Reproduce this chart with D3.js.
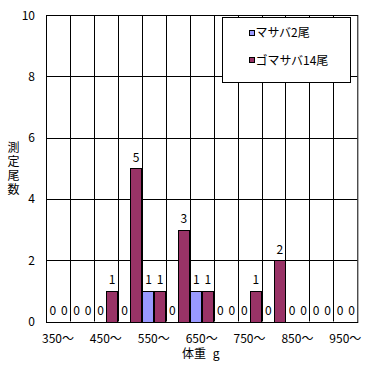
<!DOCTYPE html>
<html><head><meta charset="utf-8">
<script src="https://cdn.jsdelivr.net/npm/d3@7"></script>
<style>body{margin:0;background:#fff}svg{display:block}text{font-family:"Noto Sans CJK JP","DejaVu Sans",sans-serif;font-size:12px;fill:#000}</style>
</head><body><svg id="c" width="375" height="366"></svg>
<script>
const categories = ["350～","400～","450～","500～","550～","600～","650～","700～","750～","800～","850～","900～","950～"];
const masaba = [0,0,0,0,1,0,1,0,0,0,0,0,0];
const gomasaba = [0,0,1,5,1,3,1,0,1,2,0,0,0];
const seriesNames = ["マサバ2尾","ゴマサバ14尾"];
const colors = ["#9999FF","#993366"];
const yTicks = [0,2,4,6,8,10];

const svg = d3.select("#c");
const L = 46, R = 357.3, T = 15, B = 321.5;
const x = d3.scaleBand().domain(categories).range([L, R]).paddingInner(0).paddingOuter(0);
const x1 = d3.scaleBand().domain([0,1]).range([0, x.bandwidth()]).paddingOuter(0.06).paddingInner(0.04);
const y = d3.scaleLinear().domain([0,10]).range([B, T]);

// grid
const g = svg.append("g");
g.selectAll("line.h").data(yTicks).join("line")
  .attr("x1", L).attr("x2", R).attr("y1", d => Math.round(y(d))+0.5).attr("y2", d => Math.round(y(d))+0.5)
  .attr("stroke", "#000");
g.selectAll("line.v").data(categories.slice(1)).join("line")
  .attr("x1", d => Math.round(x(d))+0.5).attr("x2", d => Math.round(x(d))+0.5)
  .attr("y1", T).attr("y2", B).attr("stroke", "#000");
g.append("rect").attr("x", L+0.5).attr("y", Math.round(T)+0.5).attr("width", R-L).attr("height", Math.round(B)-Math.round(T))
  .attr("fill", "none").attr("stroke", "#000");

// y tick labels
svg.selectAll("text.yt").data(yTicks).join("text")
  .attr("x", 35).attr("y", d => y(d)+4.5).attr("text-anchor", "end").text(d => d);

// x tick labels (every other)
svg.selectAll("text.xt").data(categories.filter((c,i) => i % 2 === 0)).join("text")
  .attr("x", d => x(d) + x.bandwidth()/2).attr("y", 343).attr("text-anchor", "middle").text(d => d);

// bars
const series = [masaba, gomasaba];
series.forEach((vals, si) => {
  const grp = svg.append("g");
  grp.selectAll("rect").data(vals.map((v,i)=>({v, c: categories[i]}))).join("rect")
    .filter(d => d.v > 0)
    .attr("x", d => Math.round(x(d.c) + x1(si)) + 0.5)
    .attr("y", d => Math.round(y(d.v)) + 0.5)
    .attr("width", Math.round(x1.bandwidth()))
    .attr("height", d => Math.round(y(0)) - Math.round(y(d.v)))
    .attr("fill", colors[si]).attr("stroke", "#000");
  grp.selectAll("text").data(vals.map((v,i)=>({v, c: categories[i]}))).join("text")
    .attr("x", d => x(d.c) + x1(si) + x1.bandwidth()/2 + 0.5)
    .attr("y", d => y(d.v) - 6.5)
    .attr("text-anchor", "middle").text(d => d.v);
});

// y axis title vertical
svg.append("text").attr("x", 13.5).attr("y", 141)
  .style("writing-mode", "vertical-rl").style("letter-spacing", "2.3px")
  .text("測定尾数");

// x axis title
const xt = svg.append("text").attr("x", 182).attr("y", 358);
xt.append("tspan").text("体重");
xt.append("tspan").attr("dx", 4).text(" g");

// legend
const lg = svg.append("g");
lg.append("rect").attr("x", 222.5).attr("y", 17.5).attr("width", 128).attr("height", 65).attr("fill", "#fff").attr("stroke", "#000");
seriesNames.forEach((n, i) => {
  const cy = 32.5 + i*27.5;
  lg.append("rect").attr("x", 249.5).attr("y", Math.round(cy-3)+0.5).attr("width", 5).attr("height", 5)
    .attr("fill", colors[i]).attr("stroke", "#000");
  lg.append("text").attr("x", 255.5).attr("y", cy+4.5).text(n);
});
</script></body></html>
